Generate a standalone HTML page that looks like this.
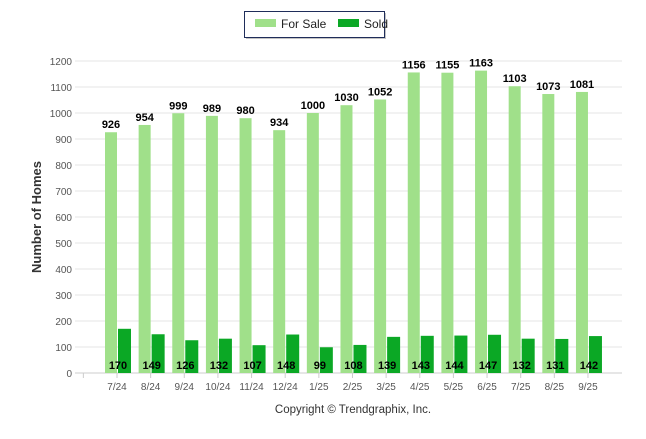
<!DOCTYPE html>
<html><head><meta charset="utf-8"><style>
body{margin:0;background:#fff;font-family:"Liberation Sans",sans-serif}
</style></head><body>
<svg id="c" width="646" height="434" xmlns="http://www.w3.org/2000/svg">
<g>
<rect x="246" y="13" width="140" height="26" fill="#888" opacity="0.5"/>
<rect x="244.5" y="11.5" width="140" height="26" fill="#fff" stroke="#1f2d5a" stroke-width="1"/>
<rect x="255" y="19" width="21" height="8" fill="#a0e08a"/>
<text x="281" y="28" font-size="12" fill="#222">For Sale</text>
<rect x="338" y="19" width="21" height="8" fill="#0ba825"/>
<text x="364" y="28" font-size="12" fill="#222">Sold</text>
</g>
<text transform="translate(41,217) rotate(-90)" text-anchor="middle" font-size="13" font-weight="bold" fill="#333">Number of Homes</text>
<text x="353" y="413" text-anchor="middle" font-size="11.5" fill="#333">Copyright © Trendgraphix, Inc.</text>
<g id="grid"></g><g id="bars"></g>
</svg>
<script>
const categories=["7/24","8/24","9/24","10/24","11/24","12/24","1/25","2/25","3/25","4/25","5/25","6/25","7/25","8/25","9/25"];
const forSale=[926,954,999,989,980,934,1000,1030,1052,1156,1155,1163,1103,1073,1081];
const sold=[170,149,126,132,107,148,99,108,139,143,144,147,132,131,142];
const yTicks=[0,100,200,300,400,500,600,700,800,900,1000,1100,1200];
const NS="http://www.w3.org/2000/svg";
const y=v=>373-v*0.26;
const xc=i=>117+i*33.64;
const grid=document.getElementById('grid'),bars=document.getElementById('bars');
function mk(tag,at,p){const e=document.createElementNS(NS,tag);for(const k in at)e.setAttribute(k,at[k]);p.appendChild(e);return e;}
yTicks.forEach(t=>{
 const l=mk('line',{x1:75,x2:622,y1:y(t),y2:y(t),stroke:t===0?'#ccc':'#e6e6e6','stroke-width':1},grid);
 
 
 const tx=mk('text',{x:72,y:y(t)+4,'text-anchor':'end','font-size':10,fill:'#555'},grid);
 tx.textContent=t;
 
 
});
for(let i=-1;i<categories.length;i++){mk('line',{x1:xc(i),x2:xc(i),y1:373,y2:378,stroke:'#ccc'},grid);}
categories.forEach((c,i)=>{
 const x=xc(i);
 const b=mk('rect',{x:x-12,y:y(forSale[i]),width:12,height:forSale[i]*0.26,fill:'#a0e08a'},bars);
 
 
 const s=mk('rect',{x:x+1,y:y(sold[i]),width:13,height:sold[i]*0.26,fill:'#0ba825'},bars);
 
 
 const t1=mk('text',{x:x-6,y:y(forSale[i])-4,'text-anchor':'middle','font-size':11,'font-weight':'bold',fill:'#000'},bars);
 t1.textContent=forSale[i];
 
 
 const t2=mk('text',{x:x+1,y:369,'text-anchor':'middle','font-size':11,'font-weight':'bold',fill:'#000'},bars);
 t2.textContent=sold[i];
 
 
 const xl=mk('text',{x:x,y:390,'text-anchor':'middle','font-size':10,fill:'#555'},bars);
 xl.textContent=c;
 
 
});
</script>
</body></html>
